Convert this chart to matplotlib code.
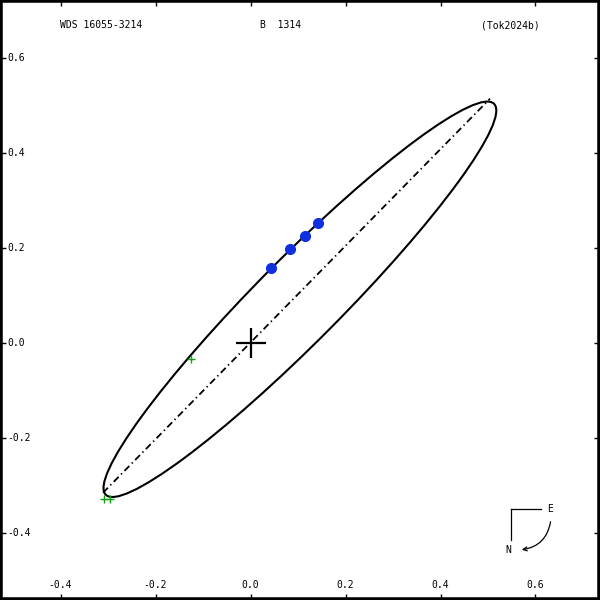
import numpy as np
import matplotlib
matplotlib.use('Agg')
import matplotlib.pyplot as plt
from matplotlib.patches import Ellipse, FancyArrowPatch

# apparent orbit
orbit_center = (0.104, 0.091)
orbit_a = 0.580          # semi-major
orbit_b = 0.0885         # semi-minor
orbit_angle = 45.2       # degrees

# line of nodes
node_x = [-0.3105, 0.5042]
node_y = [-0.3162, 0.5133]

# measurements
blue_x = [0.043, 0.084, 0.114, 0.1415]
blue_y = [0.157, 0.1975, 0.225, 0.2507]
green_x = [-0.126, -0.3084, -0.2958]
green_y = [-0.034, -0.3288, -0.3288]

xticks = [-0.4, -0.2, 0.0, 0.2, 0.4, 0.6]
yticks = [-0.4, -0.2, 0.0, 0.2, 0.4, 0.6]

plt.rcParams['font.family'] = ['DejaVu Sans Mono']
plt.rcParams['lines.scale_dashes'] = False

fig = plt.figure(figsize=(6, 6), dpi=100)
ax = fig.add_axes([0, 0, 1, 1])
ax.set_xlim(-0.5274, 0.7358)
ax.set_ylim(-0.5421, 0.7211)

for s in ax.spines.values():
	s.set_linewidth(4)
ax.set_xticks(xticks)
ax.set_yticks(yticks)
ax.tick_params(direction='in', length=4, width=1, top=True, right=True,
			   labelbottom=False, labelleft=False)

for v in xticks:
	ax.text(v, 0.025, '%.1f' % v, transform=ax.get_xaxis_transform(),
			ha='center', va='center', fontsize=7)
for v in yticks:
	ax.text(0.012, v, '%.1f' % v, transform=ax.get_yaxis_transform(),
			ha='left', va='center', fontsize=7)

# header
ax.text(0.10, 0.958, 'WDS 16055-3214', transform=ax.transAxes, ha='left', va='center', fontsize=7)
ax.text(0.434, 0.958, 'B  1314', transform=ax.transAxes, ha='left', va='center', fontsize=7)
ax.text(0.802, 0.958, '(Tok2024b)', transform=ax.transAxes, ha='left', va='center', fontsize=7)

# orbit
ell = Ellipse(orbit_center, 2 * orbit_a, 2 * orbit_b, angle=orbit_angle,
			  fill=False, edgecolor='black', linewidth=1.5)
ax.add_patch(ell)
ax.plot(node_x, node_y, color='black', linewidth=1.3, linestyle=(0, (5, 2.5, 1, 2.5)))

# primary
ax.plot([0], [0], marker='+', markersize=22, mew=1.6, color='black')

ax.plot(green_x, green_y, linestyle='none', marker='+', markersize=6, mew=1, color='#10a010')
ax.plot(blue_x, blue_y, linestyle='none', marker='o', markersize=7, color='#1030e0')

# compass
ax.plot([511/600, 541/600], [1 - 509/600, 1 - 509/600], transform=ax.transAxes, color='black', linewidth=0.9)
ax.plot([511/600, 511/600], [1 - 509/600, 1 - 540/600], transform=ax.transAxes, color='black', linewidth=0.9)
ax.text(550/600, 1 - 509/600, 'E', transform=ax.transAxes, ha='center', va='center', fontsize=7)
ax.text(508/600, 1 - 550/600, 'N', transform=ax.transAxes, ha='center', va='center', fontsize=7)
arr = FancyArrowPatch((551/600, 1 - 519/600), (519/600, 1 - 550/600), transform=ax.transAxes,
					  connectionstyle='arc3,rad=-0.4', arrowstyle='->', mutation_scale=7,
					  color='black', linewidth=0.9)
ax.add_patch(arr)

plt.savefig('out.png', dpi=100)
